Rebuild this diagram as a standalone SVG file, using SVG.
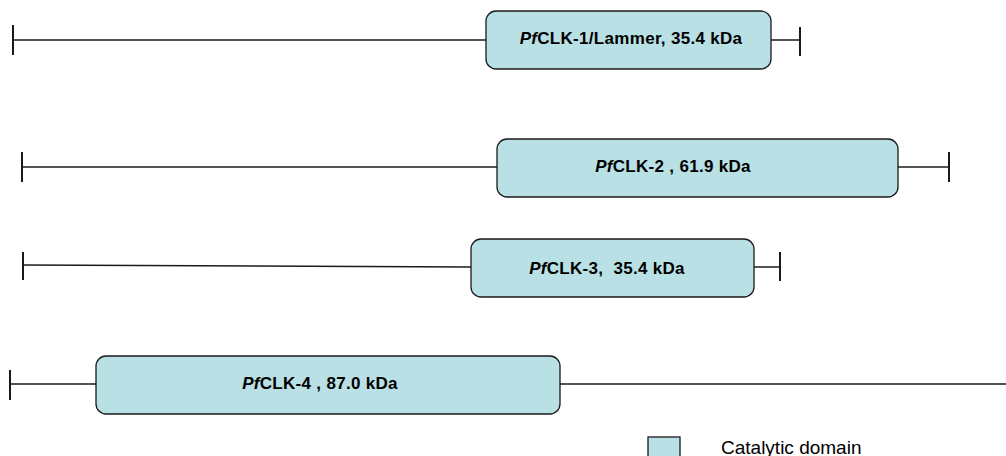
<svg xmlns="http://www.w3.org/2000/svg" width="1006" height="456" viewBox="0 0 1006 456">
  <style>
    .axis { stroke: #1a1a1a; stroke-width: 1.5; fill: none; }
    .tick { stroke: #1a1a1a; stroke-width: 2; }
    .domain { fill: #b9e0e4; stroke: #1a1a1a; stroke-width: 1.3; }
    .lbl { font-family: "Liberation Sans", Arial, sans-serif; font-size: 17px; letter-spacing: 0.3px; font-weight: bold; fill: #000; text-anchor: middle; }
    .legend { font-family: "Liberation Sans", Arial, sans-serif; font-size: 19px; fill: #000; }
  </style>
  <rect width="1006" height="456" fill="#ffffff"/>

  <!-- protein backbones with end ticks -->
  <g id="connectors">
    <line class="axis" x1="13" y1="40" x2="800" y2="40"/>
    <line class="tick" x1="13" y1="25" x2="13" y2="55"/>
    <line class="tick" x1="800" y1="27" x2="800" y2="56"/>

    <line class="axis" x1="22" y1="167" x2="949" y2="167"/>
    <line class="tick" x1="22" y1="152" x2="22" y2="182"/>
    <line class="tick" x1="949" y1="152" x2="949" y2="182"/>

    <line class="axis" x1="23" y1="265" x2="471" y2="267"/>
    <line class="axis" x1="754" y1="267" x2="780" y2="267"/>
    <line class="tick" x1="23" y1="252" x2="23" y2="280"/>
    <line class="tick" x1="780" y1="252" x2="780" y2="281"/>

    <line class="axis" x1="10" y1="384" x2="1006" y2="384"/>
    <line class="tick" x1="10" y1="370" x2="10" y2="400"/>
  </g>

  <!-- catalytic domains -->
  <g id="clk1">
    <rect class="domain" x="486" y="11" width="285" height="58" rx="10"/>
    <text class="lbl" x="631" y="44"><tspan font-style="italic">Pf</tspan>CLK-1/Lammer, 35.4 kDa</text>
  </g>
  <g id="clk2">
    <rect class="domain" x="497" y="139" width="401" height="58" rx="10"/>
    <text class="lbl" x="673" y="172"><tspan font-style="italic">Pf</tspan>CLK-2 , 61.9 kDa</text>
  </g>
  <g id="clk3">
    <rect class="domain" x="471" y="239" width="283" height="58" rx="10"/>
    <text class="lbl" x="607" y="274" xml:space="preserve"><tspan font-style="italic">Pf</tspan>CLK-3,  35.4 kDa</text>
  </g>
  <g id="clk4">
    <rect class="domain" x="96" y="356" width="464" height="58" rx="10"/>
    <text class="lbl" x="320" y="389"><tspan font-style="italic">Pf</tspan>CLK-4 , 87.0 kDa</text>
  </g>

  <!-- legend -->
  <g id="legend">
    <rect class="domain" x="648" y="437" width="32" height="20" stroke-width="1"/>
    <text class="legend" x="721" y="454">Catalytic domain</text>
  </g>
</svg>
